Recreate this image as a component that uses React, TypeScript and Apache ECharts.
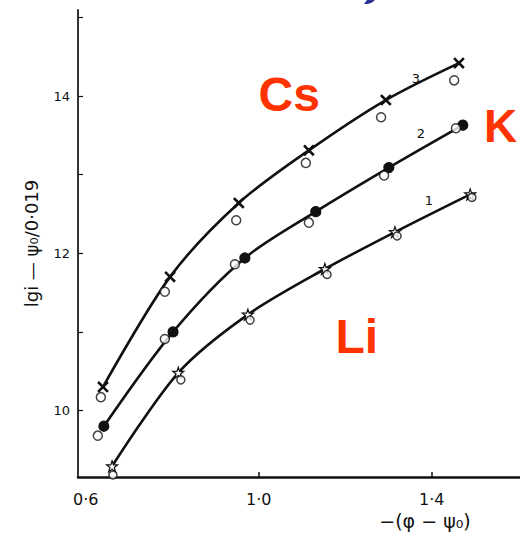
import React, { useEffect, useRef } from "react";
import * as echarts from "echarts";

// Curve 3 (Cs): points on the line and open-circle measurements
const CS_X = [0.64, 0.795, 0.954, 1.116, 1.294, 1.463];
const CS_Y = [10.3, 11.7, 12.64, 13.31, 13.95, 14.42];
const CS_CIRCLE_X = [0.635, 0.783, 0.948, 1.109, 1.283, 1.452];
const CS_CIRCLE_Y = [10.17, 11.51, 12.42, 13.15, 13.73, 14.2];

// Curve 2 (K)
const K_X = [0.642, 0.802, 0.968, 1.132, 1.301, 1.472];
const K_Y = [9.8, 11.0, 11.94, 12.53, 13.09, 13.63];
const K_CIRCLE_X = [0.628, 0.783, 0.945, 1.116, 1.29, 1.456];
const K_CIRCLE_Y = [9.68, 10.91, 11.86, 12.39, 12.99, 13.59];

// Curve 1 (Li)
const LI_X = [0.661, 0.814, 0.975, 1.153, 1.315, 1.489];
const LI_Y = [9.29, 10.48, 11.22, 11.8, 12.27, 12.75];
const LI_OPEN_X = [0.663, 0.82, 0.98, 1.158, 1.32, 1.493];
const LI_OPEN_Y = [9.18, 10.39, 11.15, 11.73, 12.22, 12.71];

// Axis ticks / labels
const X_LABELS = [0.6, 1.0, 1.4];
const X_TICKS = [1.0, 1.4];
const Y_LABELS = [10, 12, 14];
const Y_TICKS = [10, 11, 12, 13, 14, 15];

const X_NAME = "−(φ − ψ₀)";
const Y_NAME = "lgi — ψ₀/0·019";

const zip = (xs: number[], ys: number[]) => xs.map((x, i) => [x, ys[i]]);

const CROSS =
  "path://M0,1L1,0L5,4L9,0L10,1L6,5L10,9L9,10L5,6L1,10L0,9L4,5Z";
const STAR =
  "path://M5,0L6.2,3.5L10,3.5L7,5.8L8.1,9.5L5,7.2L1.9,9.5L3,5.8L0,3.5L3.8,3.5Z";

const RED = "#ff3300";
const INK = "#111";

export default function App() {
  const ref = useRef<HTMLDivElement>(null);

  useEffect(() => {
    if (!ref.current) return;
    const chart = echarts.init(ref.current, null, { renderer: "svg" });

    const lineSeries = (name: string, data: number[][], symbol: string, size: number, fill: string) => ({
      name,
      type: "line",
      data,
      smooth: 0.3,
      symbol,
      symbolSize: size,
      showAllSymbol: true,
      lineStyle: { color: INK, width: 2.6 },
      itemStyle: { color: fill, borderColor: INK, borderWidth: 1.2 },
      z: 3,
    });
    const openSeries = (name: string, data: number[][], symbol: string, size: number) => ({
      name,
      type: "scatter",
      data,
      symbol,
      symbolSize: size,
      itemStyle: { color: "#fff", borderColor: INK, borderWidth: 1.5 },
      z: 4,
    });

    chart.setOption({
      animation: false,
      backgroundColor: "#fff",
      grid: { left: 78, right: 0, top: 10, bottom: 57 },
      xAxis: {
        type: "value",
        min: 0.5822,
        max: 1.6042,
        axisLine: { lineStyle: { color: INK, width: 2.5 } },
        axisTick: {
          inside: true,
          length: 5,
          customValues: X_TICKS,
          lineStyle: { color: INK, width: 1.5 },
        },
        axisLabel: {
          customValues: X_LABELS,
          margin: 14,
          color: INK,
          fontSize: 16,
          fontFamily: "DejaVu Sans",
          formatter: (v: number) => v.toFixed(1).replace(".", "·"),
        },
        splitLine: { show: false },
      },
      yAxis: {
        type: "value",
        min: 9.154,
        max: 15.095,
        name: Y_NAME,
        nameLocation: "middle",
        nameGap: 38,
        nameTextStyle: { color: INK, fontSize: 18, fontFamily: "DejaVu Sans" },
        axisLine: { show: true, lineStyle: { color: "#333", width: 2 } },
        axisTick: {
          inside: true,
          length: 5,
          customValues: Y_TICKS,
          lineStyle: { color: INK, width: 1.2 },
        },
        axisLabel: {
          customValues: Y_LABELS,
          margin: 8,
          color: INK,
          fontSize: 13,
          fontFamily: "DejaVu Sans",
        },
        splitLine: { show: false },
      },
      series: [
        lineSeries("Cs (3)", zip(CS_X, CS_Y), CROSS, 10, INK),
        openSeries("Cs (3) open", zip(CS_CIRCLE_X, CS_CIRCLE_Y), "circle", 9),
        lineSeries("K (2)", zip(K_X, K_Y), "circle", 10, INK),
        openSeries("K (2) open", zip(K_CIRCLE_X, K_CIRCLE_Y), "circle", 9),
        lineSeries("Li (1)", zip(LI_X, LI_Y), STAR, 11, "#fff"),
        openSeries("Li (1) open", zip(LI_OPEN_X, LI_OPEN_Y), "circle", 8),
      ],
      graphic: [
        {
          type: "text",
          x: 425,
          y: 521,
          style: {
            text: X_NAME,
            fill: INK,
            font: "19px 'DejaVu Sans'",
            textAlign: "center",
            textVerticalAlign: "middle",
          },
        },
        {
          type: "text",
          x: 416,
          y: 78,
          style: { text: "3", fill: INK, font: "13px 'DejaVu Sans'", textAlign: "center", textVerticalAlign: "middle" },
        },
        {
          type: "text",
          x: 421,
          y: 133,
          style: { text: "2", fill: INK, font: "13px 'DejaVu Sans'", textAlign: "center", textVerticalAlign: "middle" },
        },
        {
          type: "text",
          x: 429,
          y: 200,
          style: { text: "1", fill: INK, font: "13px 'DejaVu Sans'", textAlign: "center", textVerticalAlign: "middle" },
        },
        {
          type: "text",
          x: 258.6,
          y: 94,
          style: { text: "Cs", fill: RED, font: "bold 48px 'Liberation Sans'", textAlign: "left", textVerticalAlign: "middle" },
        },
        {
          type: "text",
          x: 484,
          y: 126,
          style: { text: "K", fill: RED, font: "bold 46px 'Liberation Sans'", textAlign: "left", textVerticalAlign: "middle" },
        },
        {
          type: "text",
          x: 335.5,
          y: 336,
          style: { text: "Li", fill: RED, font: "bold 48px 'Liberation Sans'", textAlign: "left", textVerticalAlign: "middle" },
        },
        {
          type: "polygon",
          shape: { points: [[364, 4], [368, 4], [372, 2.5], [375, 0], [367, 0]] },
          style: { fill: "#2e3192" },
        },
      ],
    });

    return () => chart.dispose();
  }, []);

  return (
    <div
      ref={ref}
      style={{ position: "fixed", left: 0, top: 0, width: 520, height: 534 }}
    />
  );
}
